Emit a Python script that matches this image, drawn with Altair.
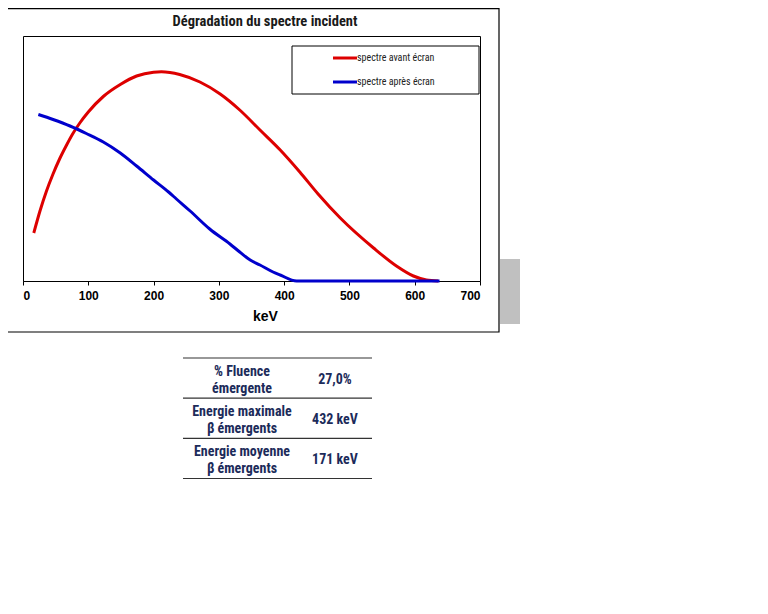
import altair as alt
import pandas as pd

# ---- data ----
red_name = "spectre avant écran"
blue_name = "spectre après écran"
red_kev = [16.5, 26, 36, 46, 56, 66, 76, 87, 100, 123, 149, 174, 200, 212, 225, 240, 271, 302, 332, 363, 394, 424, 452, 486, 537, 572, 598, 618, 636]
red_val = [48, 70, 90, 107, 122, 135, 147, 158, 169, 184.5, 196.5, 205, 208.8, 209.2, 208.5, 206.5, 199, 187, 171, 151, 131, 109, 87, 63, 33, 15, 5, 1, 0]
blue_kev = [23.5, 46, 72, 97, 123, 149, 174, 200, 223, 235, 256, 286, 317, 332, 348, 363, 383, 394, 419, 638]
blue_val = [166.5, 161.5, 155, 147.5, 139, 128, 115, 101, 89, 82, 70, 52, 37, 29, 21, 16, 9, 6, 0, 0]

x_ticks = [0, 100, 200, 300, 400, 500, 600, 700]
title_text = "Dégradation du spectre incident"

table_labels = ["% Fluence\némergente", "Energie maximale\nβ émergents", "Energie moyenne\nβ émergents"]
table_values = ["27,0%", "432 keV", "171 keV"]

series_names = [red_name, blue_name]
series_colors = ["#dd0000", "#0000cc"]

NARROW = "Liberation Sans Narrow, Roboto Condensed, Noto Sans"
ARIAL = "Liberation Sans, Arial"
NAVY = "#1c2b5a"

df = pd.concat([
    pd.DataFrame({"keV": red_kev, "val": red_val, "serie": red_name, "o": range(len(red_kev))}),
    pd.DataFrame({"keV": blue_kev, "val": blue_val, "serie": blue_name, "o": range(len(blue_kev))}),
], ignore_index=True)

one = pd.DataFrame({"k": [0]})

outer = alt.Chart(one).mark_rect(fill="transparent", stroke="black", strokeWidth=1.2).encode(
    x=alt.value(-20), x2=alt.value(476), y=alt.value(-27.4), y2=alt.value(296))

shadow = alt.Chart(one).mark_rect(fill="#c0c0c0").encode(
    x=alt.value(477), x2=alt.value(497), y=alt.value(223), y2=alt.value(288))

title = alt.Chart(one).mark_text(text=title_text, font=NARROW, fontSize=14.5, fontWeight="bold",
                                 color="#1a1a1a", align="center", baseline="middle").encode(
    x=alt.value(242), y=alt.value(-14))

lines = alt.Chart(df).mark_line(strokeWidth=3, interpolate="monotone").encode(
    x=alt.X("keV:Q", scale=alt.Scale(domain=[0, 700], nice=False, zero=False),
            axis=alt.Axis(values=x_ticks, title="keV", grid=False, domainColor="black", domainWidth=1,
                          tickColor="black", tickSize=4, labelFont=ARIAL, labelFontWeight="bold",
                          labelFontSize=12, labelColor="black", labelPadding=5,
                          titleFont=ARIAL, titleFontSize=14, titleFontWeight="bold", titleColor="black",
                          titleX=242, titleY=35, titleBaseline="middle", titleAlign="center")),
    y=alt.Y("val:Q", scale=alt.Scale(domain=[0, 245], nice=False), axis=None),
    color=alt.Color("serie:N", scale=alt.Scale(domain=series_names, range=series_colors), legend=None),
    order="o:Q",
)

legend_box = alt.Chart(one).mark_rect(fill="white", stroke="black", strokeWidth=1).encode(
    x=alt.value(269), x2=alt.value(456), y=alt.value(10), y2=alt.value(58))

legend_layers = []
for i, (name, col) in enumerate(zip(series_names, series_colors)):
    yy = 22 + 24 * i
    legend_layers.append(alt.Chart(one).mark_rule(color=col, strokeWidth=3).encode(
        x=alt.value(310), x2=alt.value(334), y=alt.value(yy)))
    legend_layers.append(alt.Chart(one).mark_text(text=name, font=NARROW, fontSize=10, color="#222222",
                                                  align="left", baseline="middle").encode(
        x=alt.value(334), y=alt.value(yy)))

tscale = alt.Scale(domain=[0, 3], range=[322, 442.5], nice=False, zero=False)
rows = pd.DataFrame({"row": [0.5, 1.5, 2.5], "label": table_labels, "value": table_values})
bounds = pd.DataFrame({"b": [0, 1, 2, 3]})

t_rules = alt.Chart(bounds).mark_rule(color="#333333", strokeWidth=1.2).encode(
    x=alt.value(160), x2=alt.value(349), y=alt.Y("b:Q", scale=tscale, axis=None))
t_labels = alt.Chart(rows).mark_text(lineBreak="\n", lineHeight=17.5, font=NARROW, fontSize=14,
                                     fontWeight="bold", color=NAVY, align="center", baseline="middle", dy=-6.5).encode(
    x=alt.value(219), y=alt.Y("row:Q", scale=tscale, axis=None), text="label:N")
t_values = alt.Chart(rows).mark_text(font=NARROW, fontSize=14, fontWeight="bold", color=NAVY,
                                     align="center", baseline="middle", dy=2).encode(
    x=alt.value(312), y=alt.Y("row:Q", scale=tscale, axis=None), text="value:N")

chart = alt.layer(outer, shadow, title, lines, legend_box, *legend_layers, t_rules, t_labels, t_values).resolve_scale(
    y="independent"
).properties(
    width=457, height=245,
    autosize=alt.AutoSizeParams(type="none"),
    padding={"left": 15, "top": 28, "right": 280, "bottom": 325},
).configure_view(stroke="black", strokeWidth=1)

chart.save("out.html", embed_options={"renderer": "svg", "actions": False})
